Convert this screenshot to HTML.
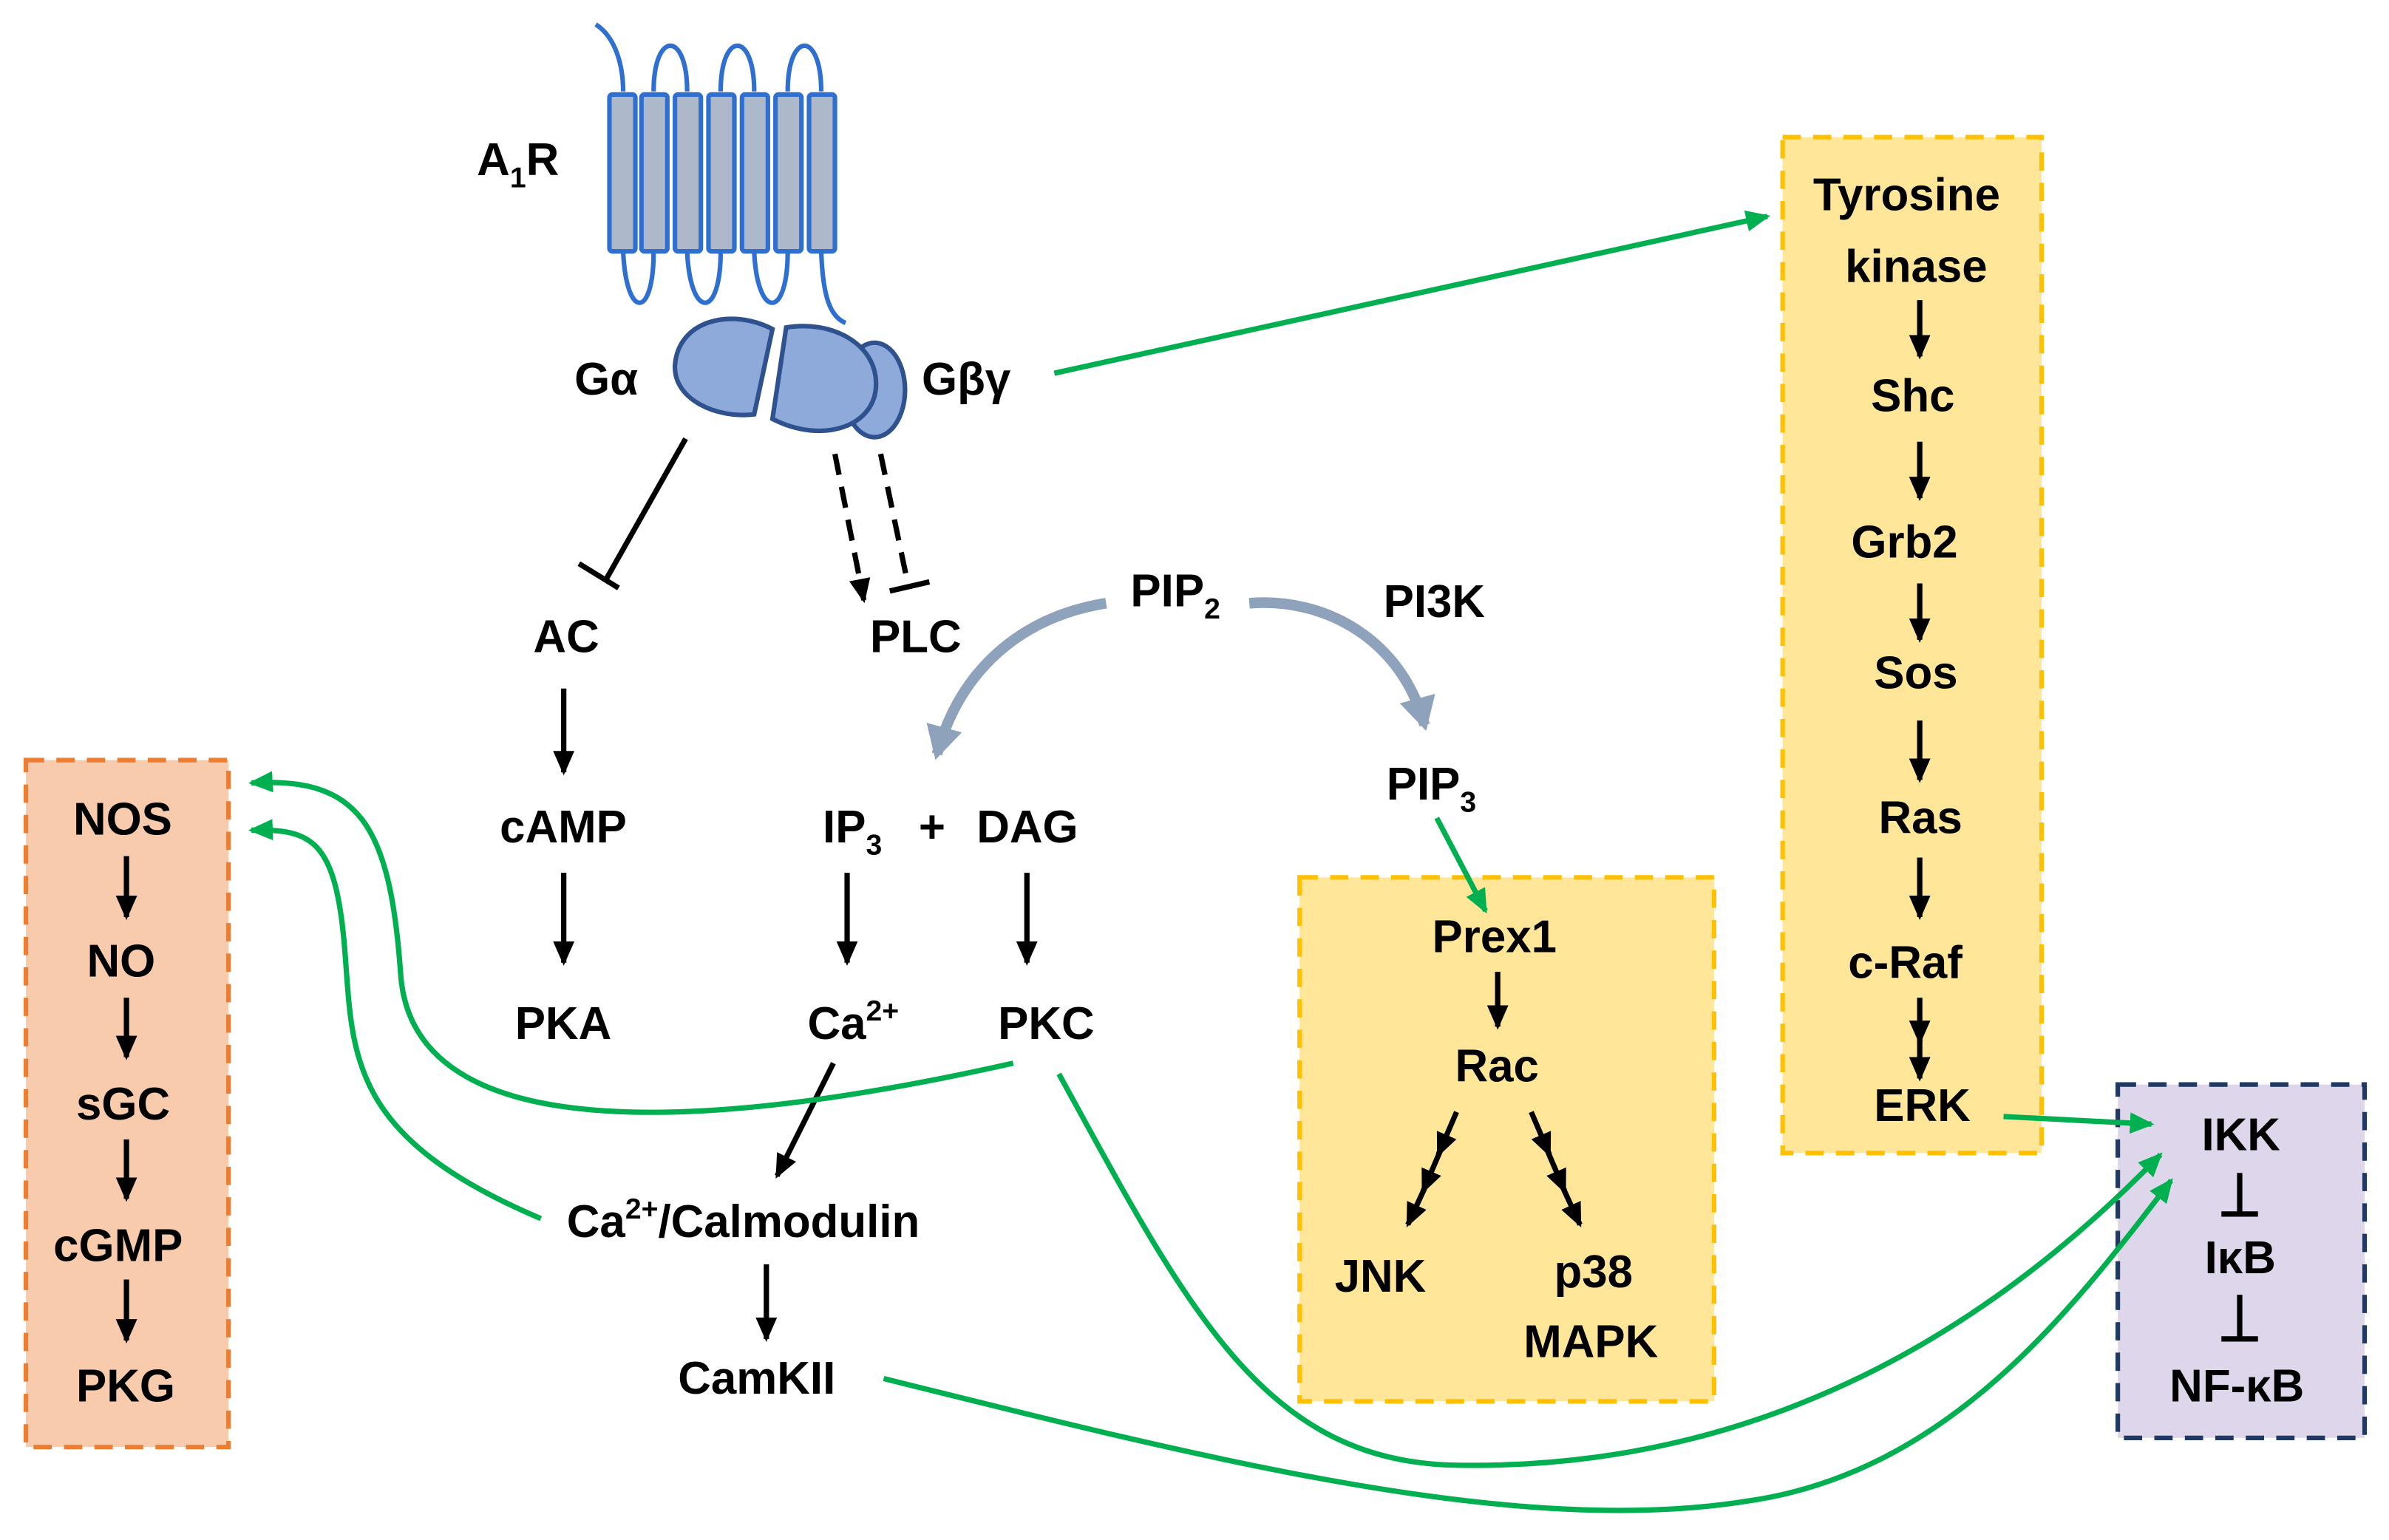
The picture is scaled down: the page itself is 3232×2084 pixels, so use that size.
<!DOCTYPE html>
<html><head><meta charset="utf-8"><style>
html,body{margin:0;padding:0;background:#fff;}
svg{display:block;}
text{font-family:"Liberation Sans",sans-serif;font-weight:bold;font-size:30px;fill:#000;}
</style></head><body>
<svg width="3232" height="2084" viewBox="0 0 1568 1011" xmlns="http://www.w3.org/2000/svg">
<defs>
<marker id="abk" markerWidth="16" markerHeight="14" refX="14" refY="7" orient="auto" markerUnits="userSpaceOnUse"><path d="M0,0 L16,7 L0,14 z" fill="#000"/></marker>
<marker id="ag" markerWidth="16" markerHeight="14" refX="14" refY="7" orient="auto" markerUnits="userSpaceOnUse"><path d="M0,0 L16,7 L0,14 z" fill="#00b050"/></marker>
<marker id="agr" markerWidth="24" markerHeight="24" refX="18" refY="12" orient="auto" markerUnits="userSpaceOnUse"><path d="M0,0 L22,12 L0,24 z" fill="#8ea2bc"/></marker>
</defs>

<rect x="17" y="499" width="133" height="451" fill="#f8cbad" stroke="#ed7d31" stroke-width="3" stroke-dasharray="12,8"/>
<rect x="853" y="576" width="272" height="344" fill="#ffe699" stroke="#ffc000" stroke-width="3" stroke-dasharray="12,8"/>
<rect x="1170" y="90" width="170" height="667" fill="#ffe699" stroke="#ffc000" stroke-width="3" stroke-dasharray="12,8"/>
<rect x="1390" y="712" width="162" height="232" fill="#ded6eb" stroke="#203864" stroke-width="3" stroke-dasharray="12,8"/>

<g fill="none" stroke="#2e6fd0" stroke-width="3">
<path d="M391,16 C405,25 409,45 409,60"/>
<path d="M429,60 C429,20 451,20 451,60"/>
<path d="M473,60 C473,20 495,20 495,60"/>
<path d="M517,60 C517,20 539,20 539,60"/>
<path d="M409,165 C411,210 429,210 429,165"/>
<path d="M451,165 C453,210 473,210 473,165"/>
<path d="M495,165 C497,210 517,210 517,165"/>
<path d="M539,165 C540,195 545,208 555,212"/>
</g>
<g fill="#adb9ca" stroke="#2e6fd0" stroke-width="3">
<rect x="400" y="62" width="17" height="103" rx="2"/>
<rect x="421" y="62" width="17" height="103" rx="2"/>
<rect x="443" y="62" width="17" height="103" rx="2"/>
<rect x="465" y="62" width="17" height="103" rx="2"/>
<rect x="487" y="62" width="17" height="103" rx="2"/>
<rect x="509" y="62" width="17" height="103" rx="2"/>
<rect x="531" y="62" width="17" height="103" rx="2"/>
</g>
<g fill="#8eaadb" stroke="#2f528f" stroke-width="3">
<path d="M507,216 C480,202 445,210 443,240 C442,262 470,275 495,272 L507,216 z"/>
<ellipse cx="574" cy="256" rx="20" ry="31"/>
<path d="M516,215 C545,210 575,225 575,252 C575,280 540,292 507,275 L516,215 z"/>
</g>

<text x="313" y="115">A<tspan font-size="19" dy="8">1</tspan><tspan dy="-8">R</tspan></text>
<text x="377" y="259">Gα</text>
<text x="605" y="259">Gβγ</text>
<text x="350" y="428">AC</text>
<text x="571" y="428">PLC</text>
<text x="742" y="398">PIP<tspan font-size="19" dy="8">2</tspan></text>
<text x="908" y="405">PI3K</text>
<text x="328" y="553">cAMP</text>
<text x="338" y="682">PKA</text>
<text x="540" y="553">IP<tspan font-size="19" dy="8">3</tspan></text>
<text x="603" y="553">+</text>
<text x="641" y="553">DAG</text>
<text x="530" y="682">Ca<tspan font-size="19" dy="-12">2+</tspan></text>
<text x="655" y="682">PKC</text>
<text x="910" y="525">PIP<tspan font-size="19" dy="8">3</tspan></text>
<text x="372" y="812">Ca<tspan font-size="19" dy="-12">2+</tspan><tspan dy="12">/Calmodulin</tspan></text>
<text x="445" y="915">CamKII</text>
<text x="940" y="625">Prex1</text>
<text x="955" y="710">Rac</text>
<text x="876" y="848">JNK</text>
<text x="1020" y="845">p38</text>
<text x="1000" y="891">MAPK</text>
<text x="1190" y="138">Tyrosine</text>
<text x="1211" y="185">kinase</text>
<text x="1228" y="270">Shc</text>
<text x="1215" y="366">Grb2</text>
<text x="1230" y="452">Sos</text>
<text x="1233" y="547">Ras</text>
<text x="1213" y="642">c-Raf</text>
<text x="1230" y="736">ERK</text>
<text x="48" y="548">NOS</text>
<text x="57" y="641">NO</text>
<text x="50" y="735">sGC</text>
<text x="35" y="828">cGMP</text>
<text x="50" y="920">PKG</text>
<text x="1445" y="755">IKK</text>
<text x="1447" y="836">IκB</text>
<text x="1424" y="920">NF-κB</text>

<g stroke="#000" stroke-width="3.5" fill="none" marker-end="url(#abk)">
<line x1="370" y1="452" x2="370" y2="507"/>
<line x1="370" y1="573" x2="370" y2="632"/>
<line x1="556" y1="573" x2="556" y2="632"/>
<line x1="674" y1="573" x2="674" y2="632"/>
<line x1="547" y1="698" x2="510" y2="772"/>
<line x1="503" y1="830" x2="503" y2="879"/>
<line x1="983" y1="638" x2="983" y2="674"/>
<line x1="1260" y1="197" x2="1260" y2="234"/>
<line x1="1260" y1="290" x2="1260" y2="327"/>
<line x1="1260" y1="383" x2="1260" y2="420"/>
<line x1="1260" y1="473" x2="1260" y2="512"/>
<line x1="1260" y1="563" x2="1260" y2="602"/>
<line x1="1260" y1="655" x2="1260" y2="684"/>
<line x1="1260" y1="680" x2="1260" y2="708"/>
<line x1="83" y1="562" x2="83" y2="602"/>
<line x1="83" y1="655" x2="83" y2="694"/>
<line x1="83" y1="748" x2="83" y2="787"/>
<line x1="83" y1="840" x2="83" y2="880"/>
<line x1="956" y1="730" x2="944" y2="758"/>
<line x1="946" y1="754" x2="934" y2="782"/>
<line x1="936" y1="778" x2="924" y2="804"/>
<line x1="1005" y1="730" x2="1017" y2="758"/>
<line x1="1015" y1="754" x2="1027" y2="782"/>
<line x1="1025" y1="778" x2="1037" y2="804"/>
<line x1="548" y1="298" x2="567" y2="394" stroke-dasharray="14,8"/>
</g>
<g stroke="#000" stroke-width="3.5" fill="none">
<line x1="450" y1="288" x2="398" y2="380"/>
<line x1="380" y1="370" x2="406" y2="386"/>
<line x1="578" y1="298" x2="596" y2="384" stroke-dasharray="14,8"/>
<line x1="584" y1="388" x2="610" y2="382"/>
<line x1="1470" y1="770" x2="1470" y2="797"/>
<line x1="1458" y1="797" x2="1482" y2="797"/>
<line x1="1470" y1="850" x2="1470" y2="879"/>
<line x1="1458" y1="879" x2="1482" y2="879"/>
</g>

<g stroke="#8ea2bc" stroke-width="7" fill="none" marker-end="url(#agr)">
<path d="M726,396 C670,405 630,440 615,495"/>
<path d="M820,396 C870,392 920,420 935,476"/>
</g>

<g stroke="#00b050" stroke-width="3.5" fill="none" marker-end="url(#ag)">
<line x1="692" y1="245" x2="1160" y2="142"/>
<line x1="943" y1="537" x2="975" y2="598"/>
<line x1="1315" y1="733" x2="1412" y2="738"/>
<path d="M665,698 C500,735 272,765 263,640 C256,540 235,510 165,514"/>
<path d="M355,800 C225,745 232,690 226,620 C220,552 205,544 165,545"/>
<path d="M695,705 C780,860 830,962 960,962 C1150,964 1300,880 1418,758"/>
<path d="M580,905 C800,960 1000,1010 1150,985 C1280,965 1360,860 1425,775"/>
</g>
</svg>
</body></html>
